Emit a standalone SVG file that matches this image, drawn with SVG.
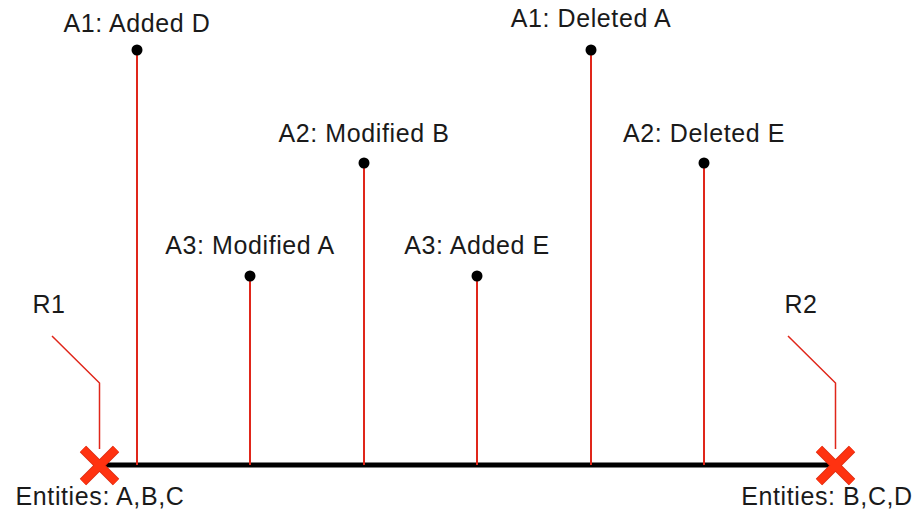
<svg xmlns="http://www.w3.org/2000/svg" width="913" height="516" viewBox="0 0 913 516">
  <style>
    .lbl { font-family: "Liberation Sans", Arial, sans-serif; font-size: 25px; fill: #1a1a1a; text-anchor: middle; letter-spacing: 0.6px; }
    .stem { stroke: #e0261a; stroke-width: 2; fill: none; }
    .leader { stroke: #e0261a; stroke-width: 1.5; fill: none; }
    .dot { fill: #000; }
    .axis { stroke: #000; stroke-width: 5; }
    .cross { stroke: #ff3210; stroke-width: 7.5; stroke-linecap: butt; }
    .cross-edge { stroke: #d8280e; stroke-width: 9; stroke-linecap: butt; }
  </style>

  <!-- timeline axis -->
  <g id="connectors">
    <line class="axis" x1="99" y1="465" x2="835" y2="465"/>
    <!-- event stems -->
    <line class="stem" x1="137" y1="50" x2="137" y2="465"/>
    <line class="stem" x1="250" y1="276" x2="250" y2="465"/>
    <line class="stem" x1="364" y1="163" x2="364" y2="465"/>
    <line class="stem" x1="477" y1="276" x2="477" y2="465"/>
    <line class="stem" x1="591" y1="50" x2="591" y2="465"/>
    <line class="stem" x1="704" y1="163" x2="704" y2="465"/>
    <!-- revision leaders -->
    <polyline class="leader" points="52,336 99.5,383 99.5,449"/>
    <polyline class="leader" points="788,336 835.5,383 835.5,449"/>
  </g>

  <!-- revision R1 -->
  <g id="r1">
    <text class="lbl" x="49" y="313">R1</text>
    <line class="cross-edge" x1="83" y1="449" x2="116" y2="482"/>
    <line class="cross-edge" x1="116" y1="449" x2="83" y2="482"/>
    <line class="cross" x1="83" y1="449" x2="116" y2="482"/>
    <line class="cross" x1="116" y1="449" x2="83" y2="482"/>
    <text class="lbl" x="100" y="505">Entities: A,B,C</text>
  </g>

  <!-- revision R2 -->
  <g id="r2">
    <text class="lbl" x="801" y="313">R2</text>
    <line class="cross-edge" x1="819" y1="449" x2="852" y2="482"/>
    <line class="cross-edge" x1="852" y1="449" x2="819" y2="482"/>
    <line class="cross" x1="819" y1="449" x2="852" y2="482"/>
    <line class="cross" x1="852" y1="449" x2="819" y2="482"/>
    <text class="lbl" x="827" y="505">Entities: B,C,D</text>
  </g>

  <!-- change events -->
  <g id="ev-a1-added-d">
    <circle class="dot" cx="137" cy="50" r="5.5"/>
    <text class="lbl" x="137" y="32">A1: Added D</text>
  </g>
  <g id="ev-a3-modified-a">
    <circle class="dot" cx="250" cy="276" r="5.5"/>
    <text class="lbl" x="250" y="254">A3: Modified A</text>
  </g>
  <g id="ev-a2-modified-b">
    <circle class="dot" cx="364" cy="163" r="5.5"/>
    <text class="lbl" x="364" y="142">A2: Modified B</text>
  </g>
  <g id="ev-a3-added-e">
    <circle class="dot" cx="477" cy="276" r="5.5"/>
    <text class="lbl" x="477" y="254">A3: Added E</text>
  </g>
  <g id="ev-a1-deleted-a">
    <circle class="dot" cx="591" cy="50" r="5.5"/>
    <text class="lbl" x="591" y="27">A1: Deleted A</text>
  </g>
  <g id="ev-a2-deleted-e">
    <circle class="dot" cx="704" cy="163" r="5.5"/>
    <text class="lbl" x="704" y="142">A2: Deleted E</text>
  </g>
</svg>
